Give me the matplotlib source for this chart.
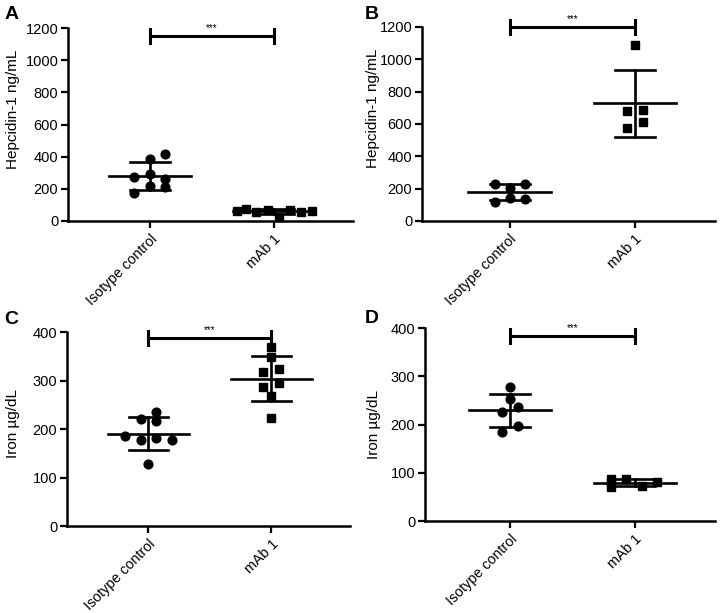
import matplotlib
matplotlib.use('Agg')
import matplotlib.pyplot as plt
import numpy as np

plt.rcParams['font.family'] = ['Liberation Sans', 'DejaVu Sans']

groups = ['Isotype control', 'mAb 1']

# panel A: hepcidin-1, ng/mL
a_iso = [274, 176, 388, 295, 220, 417, 262, 210]
a_mab = [62, 75, 58, 70, 23, 70, 56, 62]
# panel B
b_iso = [231, 207, 231, 118, 145, 136]
b_mab = [1090, 680, 686, 578, 611]
# panel C: iron, ug/dL
c_iso = [186, 221, 178, 128, 217, 182, 236, 177]
c_mab = [369, 348, 317, 324, 287, 295, 269, 222]
# panel D
d_iso = [277, 254, 226, 237, 184, 197]
d_mab = [88, 80, 70, 87, 73, 81]

# horizontal scatter of the points, in group units
a_iso_x = [-0.13, -0.13, 0, 0, 0, 0.12, 0.12, 0.12]
a_mab_x = [-0.30, -0.22, -0.14, -0.05, 0.04, 0.13, 0.22, 0.31]
b_iso_x = [-0.12, 0, 0.12, -0.12, 0, 0.12]
b_mab_x = [0, -0.065, 0.065, -0.065, 0.065]
c_iso_x = [-0.19, -0.06, -0.06, 0, 0.06, 0.06, 0.06, 0.19]
c_mab_x = [0, 0, -0.065, 0.065, -0.065, 0.065, 0, 0]
d_iso_x = [0, 0, -0.062, 0.062, -0.062, 0.062]
d_mab_x = [-0.19, -0.19, -0.19, -0.07, 0.055, 0.18]

panels = [
    ('A', a_iso, a_mab, a_iso_x, a_mab_x, 'Hepcidin-1 ng/mL', 1200, 200, 1150,
     [0.0937, 0.6395, 0.3926, 0.3148], -0.66, 1.64, (-0.168, 0.58)),
    ('B', b_iso, b_mab, b_iso_x, b_mab_x, 'Hepcidin-1 ng/mL', 1200, 200, 1200,
     [0.5813, 0.6395, 0.4036, 0.3165], -0.70, 1.64, (-0.143, 0.58)),
    ('C', c_iso, c_mab, c_iso_x, c_mab_x, 'Iron µg/dL', 400, 100, 388,
     [0.0923, 0.1419, 0.3898, 0.3165], -0.66, 1.64, (-0.166, 0.53)),
    ('D', d_iso, d_mab, d_iso_x, d_mab_x, 'Iron µg/dL', 400, 100, 384,
     [0.5854, 0.1500, 0.3994, 0.3148], -0.68, 1.64, (-0.152, 0.50)),
]
label_pos = {'A': (0.006, 0.977), 'B': (0.503, 0.977), 'C': (0.006, 0.478), 'D': (0.503, 0.481)}

fig = plt.figure(figsize=(7.26, 6.13), dpi=100)
for name, iso, mab, iso_x, mab_x, ylab, ymax, step, sig, rect, x0, x1, lab_xy in panels:
    ax = fig.add_axes(rect)
    ax.plot(np.array(iso_x), iso, 'o', color='black', ms=6.3, clip_on=False, zorder=3)
    ax.plot(1 + np.array(mab_x), mab, 's', color='black', ms=5.6, clip_on=False, zorder=3)
    for pos, vals in [(0, iso), (1, mab)]:
        m = np.mean(vals)
        s = np.std(vals, ddof=1)
        ax.plot([pos - 0.33, pos + 0.33], [m, m], color='black', lw=1.9)
        ax.plot([pos, pos], [m - s, m + s], color='black', lw=1.9)
        ax.plot([pos - 0.16, pos + 0.16], [m + s, m + s], color='black', lw=1.9)
        ax.plot([pos - 0.16, pos + 0.16], [m - s, m - s], color='black', lw=1.9)
    # significance bar
    cap = ymax * 0.035
    ax.plot([0, 1], [sig, sig], color='black', lw=2.2, clip_on=False)
    ax.plot([0, 0], [sig - cap, sig + cap], color='black', lw=2.2, clip_on=False)
    ax.plot([1, 1], [sig - cap, sig + cap], color='black', lw=2.2, clip_on=False)
    ax.text(0.5, sig + ymax * 0.015, '***', ha='center', va='bottom', fontsize=7)
    ax.set_xlim(x0, x1)
    ax.set_ylim(0, ymax)
    ax.set_yticks(np.arange(0, ymax + 1, step))
    ax.set_xticks([0, 1])
    ax.set_xticklabels(groups, rotation=45, ha='right', rotation_mode='anchor', fontsize=10.3)
    ax.set_ylabel(ylab, fontsize=11)
    ax.yaxis.set_label_coords(*lab_xy)
    ax.tick_params(axis='both', width=1.6, length=5, labelsize=10.5, pad=2)
    ax.tick_params(axis='x', pad=3, labelsize=10.3)
    for sp in ['top', 'right']:
        ax.spines[sp].set_visible(False)
    for sp in ['left', 'bottom']:
        ax.spines[sp].set_linewidth(1.8)
    lx, ly = label_pos[name]
    fig.text(lx, ly, name, fontsize=14, fontweight='bold', va='center')

fig.savefig('out.png', dpi=100)
